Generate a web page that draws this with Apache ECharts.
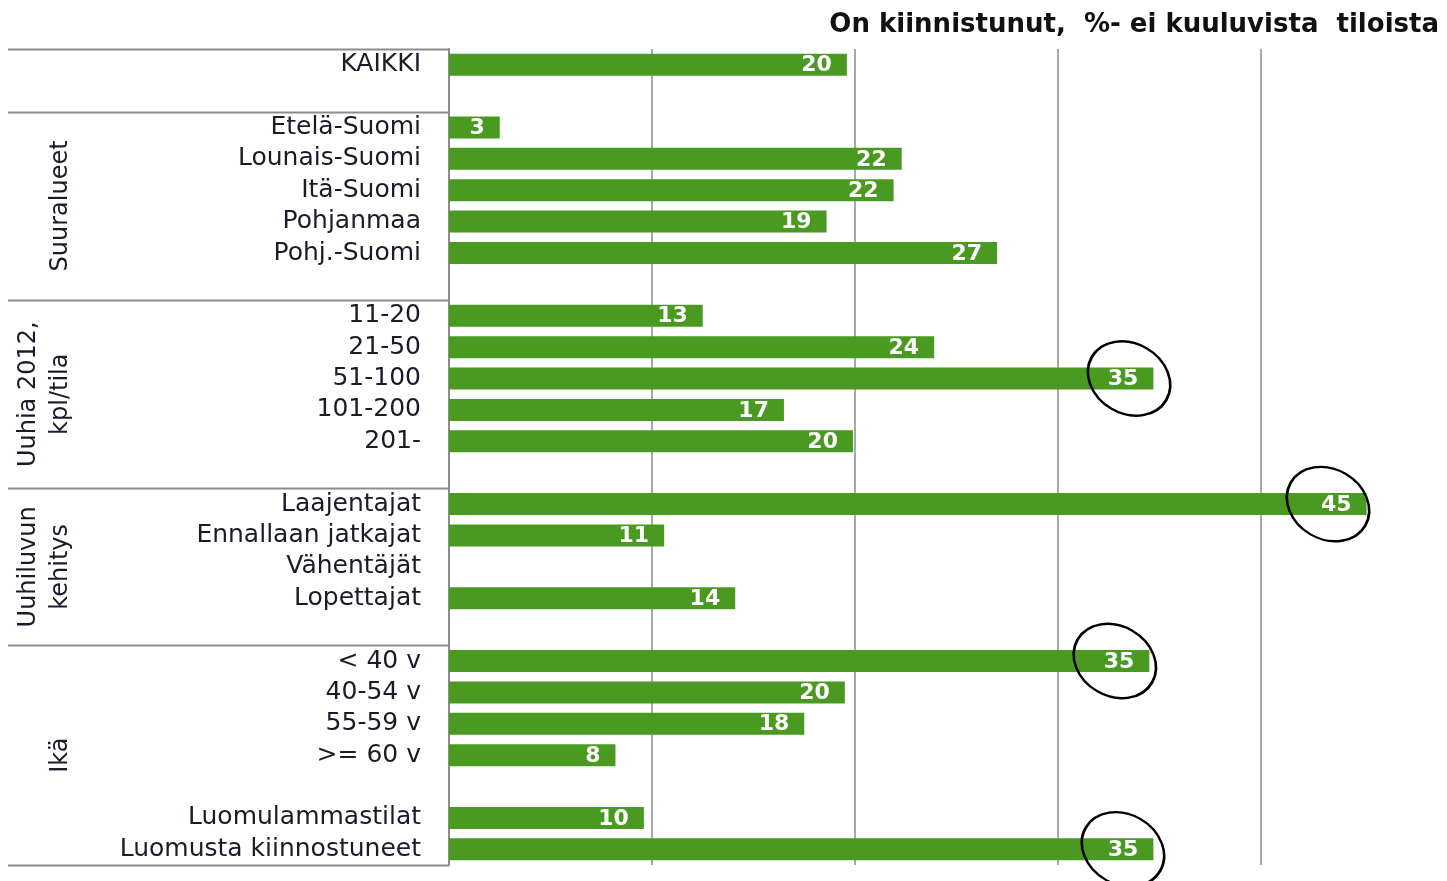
<!DOCTYPE html>
<html>
<head>
<meta charset="utf-8">
<script src="https://cdn.jsdelivr.net/npm/echarts@6/dist/echarts.min.js"></script>
<style>
    html, body { margin: 0; padding: 0; background: #fff; }
    #main { width: 1447px; height: 881px; }
</style>
</head>
<body>
<div id="main"></div>
<script>
// rivit ylhäältä alas, tyhjä = väli ryhmien välissä
var categories = [
    'KAIKKI', '',
    'Etelä-Suomi', 'Lounais-Suomi', 'Itä-Suomi', 'Pohjanmaa', 'Pohj.-Suomi', '',
    '11-20', '21-50', '51-100', '101-200', '201-', '',
    'Laajentajat', 'Ennallaan jatkajat', 'Vähentäjät', 'Lopettajat', '',
    '< 40 v', '40-54 v', '55-59 v', '>= 60 v', '',
    'Luomulammastilat', 'Luomusta kiinnostuneet'
];
var values = [
    19.6, null,
    2.5, 22.3, 21.9, 18.6, 27.0, null,
    12.5, 23.9, 34.7, 16.5, 19.9, null,
    45.2, 10.6, null, 14.1, null,
    34.5, 19.5, 17.5, 8.2, null,
    9.6, 34.7
];
var xTicks = [0, 10, 20, 30, 40, 50];
// ryhmät: otsikko + rivien rajat (indeksi)
var groupNames = ['Suuralueet', 'Uuhia 2012,\nkpl/tila', 'Uuhiluvun\nkehitys', 'Ikä'];
var groupFrom = [2, 8, 14, 19];
var groupTo = [8, 14, 19, 26];
var separators = [0, 2, 8, 14, 19, 26];
// ympyröidyt arvot
var circled = [['51-100', 33.5], ['Laajentajat', 43.3], ['< 40 v', 32.8], ['Luomusta kiinnostuneet', 33.2]];

var FONT = 'DejaVu Sans';
var chart = echarts.init(document.getElementById('main'));

chart.setOption({
    animation: false,
    title: {
        text: 'On kiinnistunut,  %- ei kuuluvista  tiloista',
        right: 3,
        top: 7,
        textStyle: {
            fontFamily: FONT,
            fontWeight: 'bold',
            fontSize: 26,
            color: '#111'
        }
    },
    grid: {
        left: 449,
        top: 49,
        width: 1015,
        height: 816,
        containLabel: false,
        outerBoundsMode: 'none'
    },
    xAxis: {
        type: 'value',
        min: xTicks[0],
        max: xTicks[xTicks.length - 1],
        interval: 10,
        axisLine: { show: false },
        axisTick: { show: false },
        axisLabel: { show: false },
        splitLine: {
            lineStyle: { color: '#a8a8a8', width: 2 }
        }
    },
    yAxis: {
        type: 'category',
        inverse: true,
        data: categories,
        axisLine: {
            lineStyle: { color: '#8c8c8c', width: 2 }
        },
        axisTick: { show: false },
        axisLabel: {
            interval: 0,
            margin: 28,
            fontFamily: FONT,
            fontSize: 25,
            color: '#1c1a2a'
        }
    },
    series: [
        {
            type: 'bar',
            data: values,
            barWidth: 22,
            itemStyle: { color: '#4a9a22' },
            label: {
                show: true,
                position: 'insideRight',
                distance: 15,
                offset: [0, 1],
                fontFamily: FONT,
                fontWeight: 'bold',
                fontSize: 22,
                color: '#fff',
                formatter: function (p) {
                    return Math.round(p.value);
                }
            },
            markPoint: {
                symbol: 'circle',
                symbolSize: [86, 70],
                symbolRotate: -30,
                silent: true,
                label: { show: false },
                itemStyle: {
                    color: 'rgba(0,0,0,0)',
                    borderColor: '#000',
                    borderWidth: 2.5
                },
                data: circled.map(function (c) {
                    return { coord: [c[1], c[0]] };
                })
            }
        }
    ]
});

// vasemman laatikon viivat ja ryhmäotsikot rivien paikoista
var y0 = chart.convertToPixel({ yAxisIndex: 0 }, 0);
var band = chart.convertToPixel({ yAxisIndex: 0 }, 1) - y0;
function bound(i) {
    return y0 + band * (i - 0.5);
}
var graphics = [];
separators.forEach(function (i) {
    var y = Math.round(bound(i)) + 0.5;
    graphics.push({
        type: 'line',
        shape: { x1: 8, y1: y, x2: 449, y2: y },
        style: { stroke: '#8c8c8c', lineWidth: 2 }
    });
});
groupNames.forEach(function (name, k) {
    var cy = (bound(groupFrom[k]) + bound(groupTo[k])) / 2;
    graphics.push({
        type: 'text',
        x: 77,
        y: cy,
        rotation: Math.PI / 2,
        style: {
            text: name,
            font: '24px "DejaVu Sans"',
            fill: '#1c1a2a',
            textAlign: 'center',
            textVerticalAlign: 'bottom',
            lineHeight: 32
        }
    });
});
chart.setOption({ graphic: graphics });
</script>
</body>
</html>
